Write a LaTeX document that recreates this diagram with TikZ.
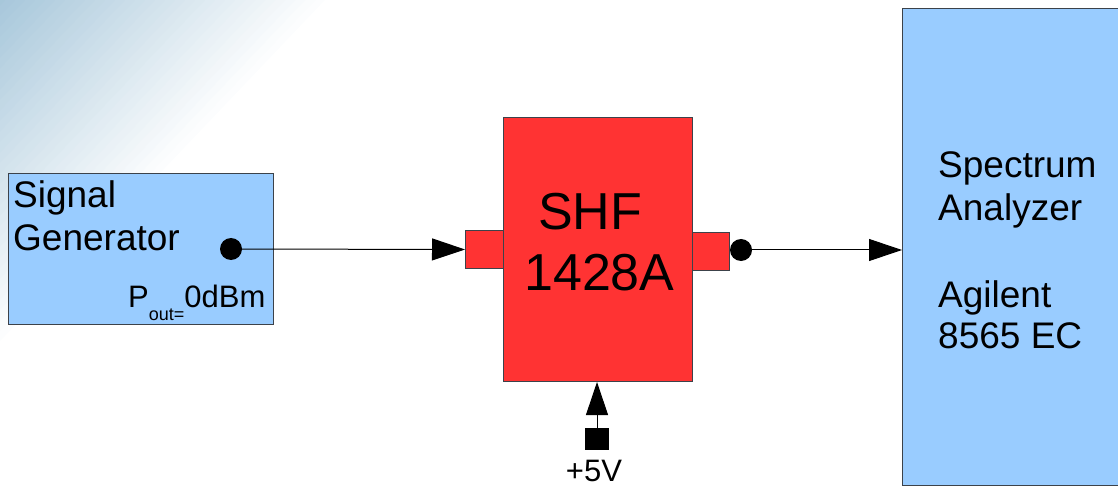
\documentclass[tikz,border=0pt]{standalone}
\usepackage{fontspec}
\setmainfont{Liberation Sans}
\usetikzlibrary{arrows.meta,positioning}
\definecolor{boxblue}{RGB}{153,204,255}
\definecolor{boxred}{RGB}{255,51,51}
\definecolor{bgblue}{RGB}{166,198,218}
\definecolor{edgegray}{RGB}{60,66,74}
\begin{document}
\begin{tikzpicture}[x=1pt, y=-1pt,
  unit/.style={draw=edgegray, line width=1pt, inner sep=0pt, anchor=north west},
  devbox/.style={unit, fill=boxblue},
  ampbox/.style={unit, fill=boxred},
  port/.style={circle, fill=black, inner sep=0pt, minimum size=22pt},
  sig/.style={line width=1pt, -{Triangle[length=33pt,width=22pt]}},
  lbl/.style={inner sep=0pt, align=left, anchor=base west}]
\useasboundingbox (0,0) rectangle (1118,486);
\clip (0,0) rectangle (1118,486);
\foreach \k in {1,...,33} {
  \pgfmathtruncatemacro\d{335-10*\k}
  \pgfmathtruncatemacro\p{3*\k}
  \fill[bgblue!\p!white] (0,0) -- (\d,0) -- (0,1.05*\d) -- cycle;
}
\node[devbox, minimum width=265pt, minimum height=151pt] (sg) at (8,173) {};
\node[lbl, anchor=north west, font=\fontsize{37}{43.5}\selectfont] (sgname) at (13,180) {Signal\\Generator};
\node[lbl, font=\fontsize{31}{31}\selectfont] (pout) at (128,307) {P\raisebox{-13pt}{\fontsize{18}{18}\selectfont out=}0dBm};
\node[port] (sgout) at (231,249) {};
\node[ampbox, minimum width=38pt, minimum height=38pt] (inport) at (465,230) {};
\node[ampbox, minimum width=37pt, minimum height=38pt] (outport) at (692,232) {};
\node[ampbox, minimum width=189pt, minimum height=264pt] (shf) at (503,117) {};
\node[lbl, font=\fontsize{52}{60}\selectfont] (shfname) at (538,230) {SHF};
\node[lbl, font=\fontsize{52}{60}\selectfont] (shfpart) at (524,290) {1428A};
\node[port] (ampout) at (741,250) {};
\node[devbox, minimum width=240pt, minimum height=477pt] (sa) at (902,8) {};
\node[lbl, anchor=north west, font=\fontsize{37}{43.5}\selectfont] (saname) at (938,151) {Spectrum\\Analyzer};
\node[lbl, anchor=north west, font=\fontsize{37}{41}\selectfont] (samodel) at (938,280) {Agilent\\8565 EC};
\node[fill=black, inner sep=0pt, minimum width=24pt, minimum height=22pt] (pwr) at (597,439) {};
\node[inner sep=0pt, anchor=base, font=\fontsize{31}{31}\selectfont] (vcc) at (594,481) {+5V};
\draw[sig] (sgout) -- (inport.west);
\draw[sig] (ampout) -- (sa.west |- ampout);
\draw[sig] (pwr) -- (shf.south -| pwr);
\end{tikzpicture}
\end{document}
